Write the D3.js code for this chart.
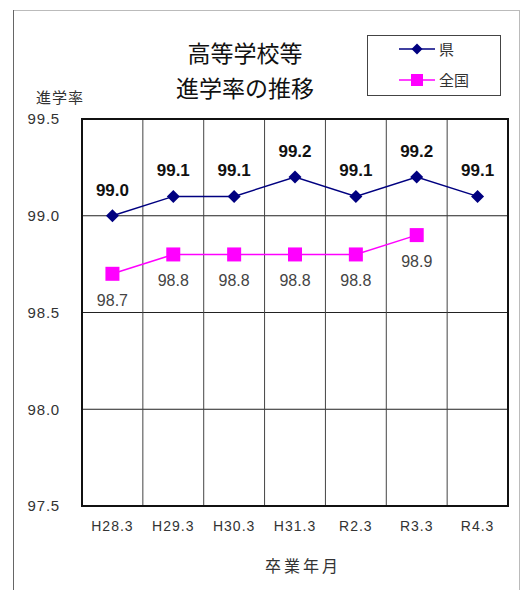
<!DOCTYPE html>
<html>
<head>
<meta charset="utf-8">
<script src="https://cdn.jsdelivr.net/npm/d3@7"></script>
<style>
  body { margin: 0; background: #fff; }
  svg { display: block; }
  text { font-family: "Liberation Sans", Arial, "Noto Sans CJK JP", sans-serif; }
  .jp { font-family: "Noto Sans CJK JP", sans-serif; }
</style>
</head>
<body>
<svg id="svg1" width="524" height="590"></svg>
<script>
var categories = ["H28.3", "H29.3", "H30.3", "H31.3", "R2.3", "R3.3", "R4.3"];
var prefValues = [99.0, 99.1, 99.1, 99.2, 99.1, 99.2, 99.1];
var nationValues = [98.7, 98.8, 98.8, 98.8, 98.8, 98.9];
var yTicks = [97.5, 98.0, 98.5, 99.0, 99.5];

var svg = d3.select("#svg1");

// outer chart frame
svg.append("rect")
    .attr("x", 13.5).attr("y", 10.5)
    .attr("width", 506).attr("height", 590)
    .attr("fill", "none").attr("stroke", "#bbb");
svg.append("line")
    .attr("x1", 13.5).attr("x2", 13.5).attr("y1", 10).attr("y2", 590)
    .attr("stroke", "#666");

var plotLeft = 82, plotTop = 119, plotRight = 508, plotBottom = 506;

var x = d3.scaleBand().domain(categories).range([plotLeft, plotRight]);
var y = d3.scaleLinear().domain([97.5, 99.5]).range([plotBottom, plotTop]);

var g = svg.append("g");

// horizontal grid
g.selectAll(".hgrid")
    .data(yTicks)
    .enter()
    .append("line")
      .attr("x1", plotLeft).attr("x2", plotRight)
      .attr("y1", function(d) { return y(d); })
      .attr("y2", function(d) { return y(d); })
      .attr("stroke", "#222").attr("stroke-width", 1);

// vertical grid
g.selectAll(".vgrid")
    .data(categories)
    .enter()
    .append("line")
      .attr("x1", function(d) { return x(d); })
      .attr("x2", function(d) { return x(d); })
      .attr("y1", plotTop).attr("y2", plotBottom)
      .attr("stroke", "#444").attr("stroke-width", 1);

// plot frame
g.append("rect")
    .attr("x", plotLeft).attr("y", plotTop)
    .attr("width", plotRight - plotLeft).attr("height", plotBottom - plotTop)
    .attr("fill", "none").attr("stroke", "#111").attr("stroke-width", 2);

// axes labels via d3 axes
var yAxis = svg.append("g")
    .attr("transform", "translate(" + (plotLeft - 19) + ",0)")
    .call(d3.axisLeft(y).tickValues(yTicks).tickFormat(d3.format(".1f")).tickSize(0));
yAxis.select(".domain").remove();
yAxis.selectAll("text")
    .attr("font-size", 15).attr("fill", "#333").attr("letter-spacing", 0.8)
    .attr("font-family", "Liberation Sans, Arial, sans-serif");

var xAxis = svg.append("g")
    .attr("transform", "translate(0," + (plotBottom + 12) + ")")
    .call(d3.axisBottom(x).tickSize(0));
xAxis.select(".domain").remove();
xAxis.selectAll("text")
    .attr("font-size", 14).attr("fill", "#333").attr("letter-spacing", 1)
    .attr("font-family", "Liberation Sans, Arial, sans-serif");

var cx = function(i) { return x(categories[i]) + x.bandwidth() / 2; };

// 全国 series
var lineN = d3.line()
    .x(function(d, i) { return cx(i); })
    .y(function(d) { return y(d); });
svg.append("path")
    .datum(nationValues)
    .attr("d", lineN)
    .attr("fill", "none").attr("stroke", "#ff00ff").attr("stroke-width", 1.5);
svg.selectAll(".sq")
    .data(nationValues)
    .enter()
    .append("rect")
      .attr("x", function(d, i) { return cx(i) - 7; })
      .attr("y", function(d) { return y(d) - 7; })
      .attr("width", 14).attr("height", 14)
      .attr("fill", "#ff00ff");
svg.selectAll(".nlabel")
    .data(nationValues)
    .enter()
    .append("text")
      .attr("x", function(d, i) { return cx(i); })
      .attr("y", function(d) { return y(d) + 32; })
      .attr("text-anchor", "middle")
      .attr("font-size", 16).attr("fill", "#444")
      .text(function(d) { return d.toFixed(1); });

// 県 series
var lineP = d3.line()
    .x(function(d, i) { return cx(i); })
    .y(function(d) { return y(d); });
svg.append("path")
    .datum(prefValues)
    .attr("d", lineP)
    .attr("fill", "none").attr("stroke", "#000080").attr("stroke-width", 1.5);
svg.selectAll(".dia")
    .data(prefValues)
    .enter()
    .append("path")
      .attr("transform", function(d, i) { return "translate(" + cx(i) + "," + y(d) + ")"; })
      .attr("d", "M0,-6.5L6.5,0L0,6.5L-6.5,0Z")
      .attr("fill", "#000080");
svg.selectAll(".plabel")
    .data(prefValues)
    .enter()
    .append("text")
      .attr("x", function(d, i) { return cx(i); })
      .attr("y", function(d) { return y(d) - 20; })
      .attr("text-anchor", "middle")
      .attr("font-size", 17).attr("font-weight", "bold").attr("fill", "#111")
      .text(function(d) { return d.toFixed(1); });

// titles
svg.append("text").attr("class", "jp")
    .attr("x", 245).attr("y", 62)
    .attr("text-anchor", "middle").attr("font-size", 23).attr("fill", "#111")
    .text("高等学校等");
svg.append("text").attr("class", "jp")
    .attr("x", 245).attr("y", 97)
    .attr("text-anchor", "middle").attr("font-size", 23).attr("fill", "#111")
    .text("進学率の推移");
svg.append("text").attr("class", "jp")
    .attr("x", 36).attr("y", 103)
    .attr("font-size", 15).attr("fill", "#333").attr("letter-spacing", 1)
    .text("進学率");
svg.append("text").attr("class", "jp")
    .attr("x", 303).attr("y", 572)
    .attr("text-anchor", "middle").attr("font-size", 16).attr("fill", "#333")
    .attr("letter-spacing", 3)
    .text("卒業年月");

// legend
var legend = svg.append("g");
legend.append("rect")
    .attr("x", 367.5).attr("y", 35.5).attr("width", 133).attr("height", 60)
    .attr("fill", "#fff").attr("stroke", "#444");
legend.append("line")
    .attr("x1", 399).attr("x2", 435).attr("y1", 49).attr("y2", 49)
    .attr("stroke", "#000080").attr("stroke-width", 1.5);
legend.append("path")
    .attr("transform", "translate(417,49)")
    .attr("d", "M0,-5.5L5.5,0L0,5.5L-5.5,0Z")
    .attr("fill", "#000080");
legend.append("text").attr("class", "jp")
    .attr("x", 439).attr("y", 55)
    .attr("font-size", 15).attr("fill", "#333")
    .text("県");
legend.append("line")
    .attr("x1", 399).attr("x2", 435).attr("y1", 80).attr("y2", 80)
    .attr("stroke", "#ff00ff").attr("stroke-width", 1.5);
legend.append("rect")
    .attr("x", 411).attr("y", 74).attr("width", 12).attr("height", 12)
    .attr("fill", "#ff00ff");
legend.append("text").attr("class", "jp")
    .attr("x", 439).attr("y", 86)
    .attr("font-size", 15).attr("fill", "#333")
    .text("全国");
</script>
</body>
</html>
